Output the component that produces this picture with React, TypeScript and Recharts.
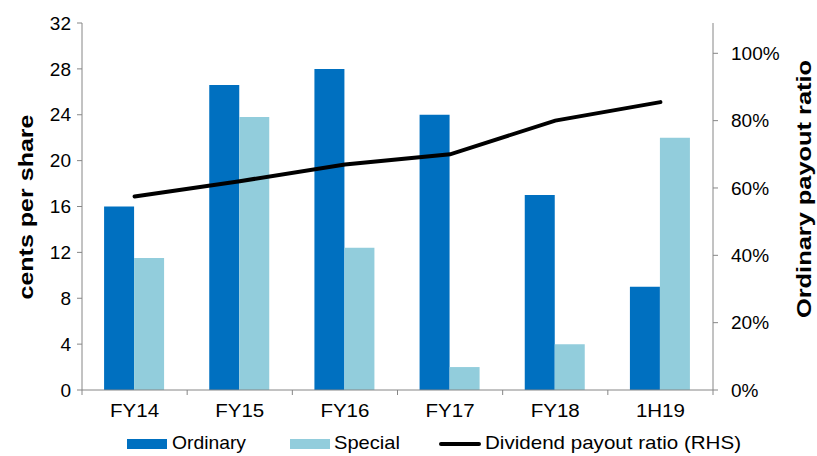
import {
  Bar,
  ComposedChart,
  Legend,
  Line,
  XAxis,
  YAxis,
} from 'recharts';

const categories = ['FY14', 'FY15', 'FY16', 'FY17', 'FY18', '1H19'];
const ordinary = [16, 26.6, 28, 24, 17, 9];
const special = [11.5, 23.8, 12.4, 2, 4, 22];
const payoutRatio = [0.575, 0.62, 0.67, 0.7, 0.8, 0.855];
const leftTicks = [0, 4, 8, 12, 16, 20, 24, 28, 32];
const rightTicks = [0, 0.2, 0.4, 0.6, 0.8, 1];

const data = categories.map((name, i) => ({
  name,
  ordinary: ordinary[i],
  special: special[i],
  ratio: payoutRatio[i],
}));

const FONT = '"Liberation Sans", Arial, sans-serif';
const AXIS = '#868686';
const ORDINARY = '#0070C0';
const SPECIAL = '#92CDDC';

const CategoryTick = (props: any) => {
  const { x, y, payload, index, visibleTicksCount } = props;
  const half = typeof payload?.offset === 'number' && payload.offset > 0 ? payload.offset : 52.5;
  const isLast = index === (visibleTicksCount ?? categories.length) - 1;
  return (
    <g>
      <line x1={x - half} x2={x - half} y1={y - 8} y2={y - 3} stroke={AXIS} />
      {isLast && <line x1={x + half} x2={x + half} y1={y - 8} y2={y - 3} stroke={AXIS} />}
      <text
        x={x}
        y={y + 19}
        textAnchor="middle"
        fontSize={19}
        fill="#000"
        fontFamily={FONT}
        transform={`translate(${x} 0) scale(1.08 1) translate(${-x} 0)`}
      >
        {payload.value}
      </text>
    </g>
  );
};

const LegendContent = () => {
  const text = (x: number, label: string, len: number) => (
    <text x={x} y={19} fontSize={19} fontFamily={FONT} fill="#000" textLength={len} lengthAdjust="spacingAndGlyphs">
      {label}
    </text>
  );
  return (
    <svg width={817} height={26} style={{ display: 'block' }}>
      <rect x={127} y={9} width={40} height={10} fill={ORDINARY} />
      {text(172, 'Ordinary', 74)}
      <rect x={290} y={9} width={40} height={10} fill={SPECIAL} />
      {text(334, 'Special', 66)}
      <line x1={441} x2={479} y1={14} y2={14} stroke="#000" strokeWidth={4} strokeLinecap="round" />
      {text(485, 'Dividend payout ratio (RHS)', 256)}
    </svg>
  );
};

export default function App() {
  return (
    <div style={{ position: 'absolute', left: 0, top: 0, width: 817, height: 456, background: '#fff' }}>
      <ComposedChart
        width={817}
        height={456}
        data={data}
        margin={{ top: 23, right: 0, bottom: 0, left: 0 }}
        barCategoryGap="21%"
        barGap={0}
      >
        <XAxis
          dataKey="name"
          xAxisId="x"
          height={40}
          axisLine={{ stroke: AXIS }}
          tickLine={false}
          tick={<CategoryTick />}
          interval={0}
        />
        <YAxis
          yAxisId="left"
          width={82}
          domain={[0, 32]}
          ticks={leftTicks}
          interval={0}
          axisLine={{ stroke: AXIS }}
          tickLine={{ stroke: AXIS }}
          tickSize={5}
          tickMargin={6}
          tick={{ fill: '#000', fontSize: 19, fontFamily: FONT }}
          label={({ viewBox }: any) => (
            <text
              x={25}
              y={207}
              transform="rotate(-90, 25, 207)"
              textAnchor="middle"
              dominantBaseline="central"
              fontSize={21}
              fontWeight="bold"
              fontFamily={FONT}
              fill="#000"
              textLength={185}
              lengthAdjust="spacingAndGlyphs"
            >
              cents per share
            </text>
          )}
        />
        <YAxis
          yAxisId="right"
          orientation="right"
          width={104}
          domain={[0, 1.09]}
          ticks={rightTicks}
          interval={0}
          axisLine={{ stroke: AXIS }}
          tickLine={{ stroke: AXIS }}
          tickSize={5}
          tickMargin={13}
          tickFormatter={(v: number) => `${Math.round(v * 100)}%`}
          tick={{ fill: '#000', fontSize: 19, fontFamily: FONT }}
          label={() => (
            <text
              x={803}
              y={189}
              transform="rotate(-90, 803, 189)"
              textAnchor="middle"
              dominantBaseline="central"
              fontSize={21}
              fontWeight="bold"
              fontFamily={FONT}
              fill="#000"
              textLength={258}
              lengthAdjust="spacingAndGlyphs"
            >
              Ordinary payout ratio
            </text>
          )}
        />
        <Bar xAxisId="x" yAxisId="left" dataKey="ordinary" fill={ORDINARY} isAnimationActive={false} />
        <Bar xAxisId="x" yAxisId="left" dataKey="special" fill={SPECIAL} isAnimationActive={false} />
        <Line
          xAxisId="x"
          yAxisId="right"
          dataKey="ratio"
          type="linear"
          stroke="#000"
          strokeWidth={4}
          strokeLinecap="round"
          dot={false}
          activeDot={false}
          isAnimationActive={false}
        />
        <Legend verticalAlign="bottom" height={26} content={<LegendContent />} />
      </ComposedChart>
    </div>
  );
}
